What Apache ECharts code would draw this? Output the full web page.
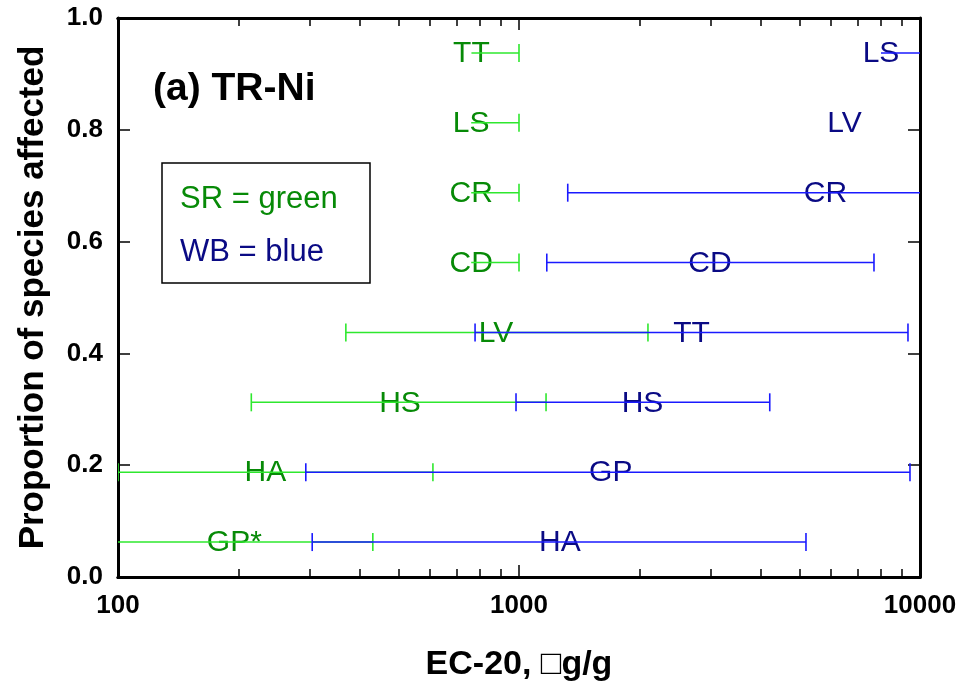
<!DOCTYPE html>
<html><head><meta charset="utf-8">
<script src="https://cdn.jsdelivr.net/npm/echarts@6/dist/echarts.min.js"></script>
<style>html,body{margin:0;padding:0;background:#fff}#c{width:960px;height:688px}</style>
</head><body><div id="c"></div>
<script>
// ---- data ----
const xMajorTicks = [100, 1000, 10000];
const xMinorTicks = [200, 300, 400, 500, 600, 700, 800, 900, 2000, 3000, 4000, 5000, 6000, 7000, 8000, 9000];
const srSpecies = ['GP*', 'HA', 'HS', 'LV', 'CD', 'CR', 'LS', 'TT'];
const srProportion = [0.0625, 0.1875, 0.3125, 0.4375, 0.5625, 0.6875, 0.8125, 0.9375];
const srEC20 = [195, 233, 505, 876, 760, 760, 760, 761];
const srLower = [80, 100, 215, 370, null, null, null, null];
const srUpper = [432, 610, 1168, 2097, 1000, 1000, 1000, 1000];
const wbSpecies = ['HA', 'GP', 'HS', 'TT', 'CD', 'CR', 'LV', 'LS'];
const wbProportion = [0.0625, 0.1875, 0.3125, 0.4375, 0.5625, 0.6875, 0.8125, 0.9375];
const wbEC20 = [1264, 1694, 2032, 2692, 2995, 5812, 6481, 7993];
const wbLower = [305, 294, 983, 777, 1173, 1323, null, null];
const wbUpper = [5196, 9441, 4220, 9333, 7678, 12000, null, 12000];

const FONT = "'Liberation Sans', Arial, sans-serif";
const SR_LINE = '#2ee82e', SR_TEXT = '#078a07';
const WB_LINE = '#1a1aff', WB_TEXT = '#0a0a84';

function rows(ec, prop, lo, hi, names) {
  return ec.map((v, i) => [v, prop[i], lo[i] == null ? NaN : lo[i], hi[i] == null ? NaN : hi[i], names[i]]);
}
const srData = rows(srEC20, srProportion, srLower, srUpper, srSpecies);
const wbData = rows(wbEC20, wbProportion, wbLower, wbUpper, wbSpecies);

function barRender(color) {
  return function (params, api) {
    const x = api.value(0), y = api.value(1), lo = api.value(2), hi = api.value(3);
    const hasLo = !isNaN(lo) && lo !== null, hasHi = !isNaN(hi) && hi !== null;
    const start = hasLo ? lo : x, end = hasHi ? hi : x;
    if (start === end) return null;
    const p0 = api.coord([start, y]), p1 = api.coord([end, y]);
    const st = { stroke: color, lineWidth: 1.6 };
    const ch = [{ type: 'line', shape: { x1: p0[0], y1: p0[1], x2: p1[0], y2: p1[1] }, style: st }];
    const h = 9;
    if (hasLo) ch.push({ type: 'line', shape: { x1: p0[0], y1: p0[1] - h, x2: p0[0], y2: p0[1] + h }, style: st });
    if (hasHi) ch.push({ type: 'line', shape: { x1: p1[0], y1: p1[1] - h, x2: p1[0], y2: p1[1] + h }, style: st });
    return { type: 'group', children: ch };
  };
}
function textRender(color) {
  return function (params, api) {
    const p = api.coord([api.value(0), api.value(1)]);
    return {
      type: 'text', x: p[0], y: p[1] + 1,
      style: { text: api.value(4), fill: color, font: '30px ' + FONT, align: 'center', verticalAlign: 'middle' }
    };
  };
}

const chart = echarts.init(document.getElementById('c'));
const axisLine = { show: true, lineStyle: { color: '#000', width: 3 } };
const xCommon = { type: 'log', logBase: 10, min: 100, max: 10000, splitLine: { show: false }, axisLine: axisLine, gridIndex: 0 };
chart.setOption({
  animation: false,
  backgroundColor: '#fff',
  grid: { left: 118, right: 40, top: 18, bottom: 111 },
  xAxis: [
    Object.assign({}, xCommon, {
      position: 'bottom',
      axisTick: { inside: true, length: 12, lineStyle: { color: '#000', width: 1.5 }, customValues: xMajorTicks },
      axisLabel: { customValues: xMajorTicks, margin: 16, color: '#000', fontFamily: FONT, fontWeight: 'bold', fontSize: 26, formatter: v => String(Math.round(v)) },
      name: 'EC-20, \u25A1g/g', nameLocation: 'middle', nameGap: 71,
      nameTextStyle: { color: '#000', fontFamily: FONT, fontWeight: 'bold', fontSize: 34 }
    }),
    Object.assign({}, xCommon, {
      position: 'bottom',
      axisTick: { inside: true, length: 8, lineStyle: { color: '#000', width: 1.5 }, customValues: xMinorTicks },
      axisLabel: { show: false }
    }),
    Object.assign({}, xCommon, {
      position: 'top',
      axisTick: { inside: true, length: 12, lineStyle: { color: '#000', width: 1.5 }, customValues: xMajorTicks },
      axisLabel: { show: false }
    }),
    Object.assign({}, xCommon, {
      position: 'top',
      axisTick: { inside: true, length: 8, lineStyle: { color: '#000', width: 1.5 }, customValues: xMinorTicks },
      axisLabel: { show: false }
    })
  ],
  yAxis: [
    {
      type: 'value', min: 0, max: 1, interval: 0.2, position: 'left',
      splitLine: { show: false }, axisLine: axisLine,
      axisTick: { inside: true, length: 12, lineStyle: { color: '#000', width: 1.5 } },
      axisLabel: { margin: 15, color: '#000', fontFamily: FONT, fontWeight: 'bold', fontSize: 26, formatter: v => v.toFixed(1) },
      name: 'Proportion of species affected', nameLocation: 'middle', nameGap: 67,
      nameTextStyle: { color: '#000', fontFamily: FONT, fontWeight: 'bold', fontSize: 35 }
    },
    {
      type: 'value', min: 0, max: 1, interval: 0.2, position: 'right',
      splitLine: { show: false }, axisLine: axisLine,
      axisTick: { inside: true, length: 12, lineStyle: { color: '#000', width: 1.5 } },
      axisLabel: { show: false }
    }
  ],
  graphic: [
    { type: 'text', x: 153, y: 89, style: { text: '(a) TR-Ni', font: 'bold 39px ' + FONT, fill: '#000', verticalAlign: 'middle' } },
    { type: 'rect', shape: { x: 162, y: 163, width: 208, height: 120 }, style: { fill: 'none', stroke: '#000', lineWidth: 1.5 } },
    { type: 'text', x: 180, y: 199, style: { text: 'SR = green', font: '31px ' + FONT, fill: SR_TEXT, verticalAlign: 'middle' } },
    { type: 'text', x: 180, y: 252, style: { text: 'WB = blue', font: '31px ' + FONT, fill: WB_TEXT, verticalAlign: 'middle' } }
  ],
  series: [
    { type: 'custom', name: 'SR labels', xAxisIndex: 0, yAxisIndex: 0, clip: false, data: srData, renderItem: textRender(SR_TEXT), z: 2 },
    { type: 'custom', name: 'WB labels', xAxisIndex: 0, yAxisIndex: 0, clip: false, data: wbData, renderItem: textRender(WB_TEXT), z: 2 },
    { type: 'custom', name: 'SR bars', xAxisIndex: 0, yAxisIndex: 0, clip: true, data: srData, renderItem: barRender(SR_LINE), z: 3 },
    { type: 'custom', name: 'WB bars', xAxisIndex: 0, yAxisIndex: 0, clip: true, data: wbData, renderItem: barRender(WB_LINE), z: 4 }
  ]
});
</script>
</body></html>
